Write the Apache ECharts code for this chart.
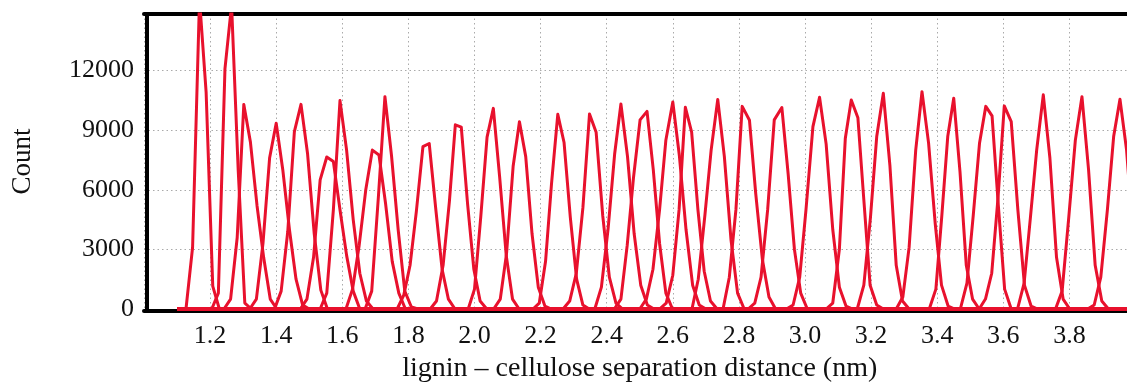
<!DOCTYPE html>
<html>
<head>
<meta charset="utf-8">
<script src="https://cdn.jsdelivr.net/npm/echarts@6/dist/echarts.min.js"></script>
<style>
  html, body { margin: 0; padding: 0; background: #fff; }
  #main { width: 1127px; height: 383px; }
</style>
</head>
<body>
<div id="main"></div>
<script>
// histogram bin centres (nm) for each umbrella window
const binCentres = [
  [1.127, 1.147, 1.168, 1.188, 1.208, 1.228],
  [1.205, 1.225, 1.245, 1.265, 1.285, 1.305, 1.325],
  [1.242, 1.262, 1.282, 1.302, 1.322, 1.342, 1.362, 1.382, 1.402],
  [1.32, 1.34, 1.36, 1.38, 1.40, 1.42, 1.44, 1.46, 1.48, 1.50],
  [1.395, 1.415, 1.435, 1.455, 1.475, 1.495, 1.515, 1.535, 1.555],
  [1.473, 1.493, 1.513, 1.533, 1.553, 1.573, 1.593, 1.613, 1.633, 1.653],
  [1.533, 1.553, 1.573, 1.593, 1.613, 1.633, 1.653, 1.673, 1.693],
  [1.611, 1.631, 1.651, 1.671, 1.691, 1.711, 1.731, 1.751, 1.771, 1.791],
  [1.669, 1.689, 1.709, 1.729, 1.749, 1.769, 1.789, 1.809, 1.829],
  [1.766, 1.786, 1.805, 1.824, 1.844, 1.863, 1.883, 1.902, 1.921, 1.941],
  [1.866, 1.885, 1.905, 1.924, 1.942, 1.96, 1.979, 1.998, 2.017, 2.037],
  [1.981, 2.0, 2.019, 2.038, 2.057, 2.076, 2.096, 2.115, 2.135],
  [2.058, 2.078, 2.097, 2.117, 2.136, 2.155, 2.174, 2.193, 2.213, 2.232],
  [2.177, 2.196, 2.215, 2.233, 2.252, 2.271, 2.29, 2.309, 2.328, 2.347],
  [2.268, 2.288, 2.308, 2.328, 2.348, 2.368, 2.388, 2.408, 2.428, 2.448],
  [2.364, 2.384, 2.404, 2.424, 2.443, 2.463, 2.483, 2.503, 2.523, 2.543],
  [2.423, 2.443, 2.462, 2.481, 2.501, 2.522, 2.541, 2.56, 2.579, 2.599],
  [2.50, 2.52, 2.54, 2.56, 2.579, 2.60, 2.62, 2.64, 2.66, 2.68, 2.70],
  [2.56, 2.58, 2.60, 2.619, 2.638, 2.657, 2.676, 2.695, 2.714, 2.734],
  [2.658, 2.677, 2.697, 2.716, 2.736, 2.756, 2.776, 2.796, 2.816],
  [2.752, 2.771, 2.791, 2.81, 2.832, 2.851, 2.871, 2.891, 2.911],
  [2.828, 2.848, 2.867, 2.887, 2.907, 2.93, 2.949, 2.968, 2.987, 3.007],
  [2.944, 2.964, 2.984, 3.003, 3.024, 3.044, 3.064, 3.084, 3.104, 3.124, 3.144],
  [3.064, 3.084, 3.104, 3.122, 3.14, 3.16, 3.178, 3.197, 3.217, 3.237],
  [3.158, 3.178, 3.198, 3.217, 3.237, 3.257, 3.276, 3.295, 3.315],
  [3.276, 3.296, 3.315, 3.335, 3.354, 3.374, 3.394, 3.413, 3.433, 3.453],
  [3.376, 3.396, 3.414, 3.432, 3.45, 3.469, 3.488, 3.507, 3.527],
  [3.47, 3.49, 3.509, 3.528, 3.547, 3.566, 3.585, 3.604, 3.624],
  [3.527, 3.546, 3.565, 3.584, 3.603, 3.624, 3.644, 3.664, 3.684, 3.704],
  [3.643, 3.663, 3.682, 3.701, 3.721, 3.741, 3.761, 3.781, 3.801],
  [3.758, 3.778, 3.798, 3.818, 3.838, 3.858, 3.878, 3.898, 3.918],
  [3.855, 3.875, 3.895, 3.915, 3.934, 3.953, 3.973, 3.993, 4.013, 4.033]
];

// counts per bin, same order as binCentres
const counts = [
  [0, 3100, 15600, 10900, 1150, 0],
  [0, 800, 12100, 15300, 7000, 300, 0],
  [0, 500, 3600, 10300, 8400, 5200, 2600, 500, 0],
  [0, 500, 3300, 7600, 9350, 7000, 4000, 1500, 200, 0],
  [0, 900, 3900, 8930, 10300, 7800, 3800, 950, 0],
  [0, 500, 2600, 6500, 7650, 7420, 5000, 2700, 900, 0],
  [0, 800, 5000, 10490, 8000, 4500, 1800, 400, 0],
  [0, 1000, 3200, 6000, 8000, 7750, 5300, 2400, 800, 0],
  [0, 900, 5600, 10690, 7700, 4000, 900, 100, 0],
  [0, 700, 2200, 4900, 8170, 8330, 5000, 2000, 500, 0],
  [0, 400, 2200, 5400, 9270, 9150, 5300, 2000, 400, 0],
  [0, 1000, 4650, 8650, 10100, 6660, 2700, 500, 0],
  [0, 500, 2800, 7200, 9430, 7670, 3800, 1100, 150, 0],
  [0, 300, 2400, 6300, 9800, 8380, 4600, 1500, 200, 0],
  [0, 400, 1800, 5100, 9820, 8900, 4700, 1600, 300, 0],
  [0, 1100, 4000, 7800, 10320, 7670, 3800, 1200, 200, 0],
  [0, 500, 3200, 6600, 9520, 9950, 7000, 3300, 800, 0],
  [0, 500, 2000, 5000, 8500, 10420, 7700, 4000, 1200, 200, 0],
  [0, 300, 1700, 5000, 10150, 8900, 5000, 1900, 400, 0],
  [0, 1500, 4700, 8000, 10550, 7670, 3500, 800, 0],
  [0, 1600, 5000, 10200, 9500, 5800, 2500, 600, 0],
  [0, 300, 1600, 5000, 9520, 10140, 6800, 3000, 800, 0],
  [0, 200, 1600, 5000, 9180, 10660, 8300, 4000, 1100, 150, 0],
  [0, 300, 3000, 8600, 10520, 9630, 5500, 1200, 200, 0],
  [0, 1200, 4600, 8680, 10860, 7200, 2200, 400, 0],
  [0, 600, 3100, 8000, 10940, 8340, 4300, 1200, 150, 0],
  [0, 1000, 4700, 8700, 10610, 6900, 2200, 500, 0],
  [0, 1300, 4700, 8340, 10200, 9720, 5200, 1000, 0],
  [0, 500, 1800, 5600, 10220, 9430, 5000, 1200, 150, 0],
  [0, 1300, 4600, 8000, 10780, 7600, 2600, 500, 0],
  [0, 900, 4600, 8500, 10690, 7000, 2200, 400, 0],
  [0, 200, 1600, 5000, 8700, 10560, 8000, 3600, 900, 0]
];

// histograms are zero over the whole sampled range
const rangeStart = 1.10;
const rangeEnd = 4.05;

const xName = 'lignin \u2013 cellulose separation distance (nm)';
const yName = 'Count';

var myChart = echarts.init(document.getElementById('main'));

var font = 'Liberation Serif';
var red = '#e8112d';

var series = binCentres.map(function (xs, i) {
  var data = [[rangeStart, 0]];
  xs.forEach(function (x, j) { data.push([x, counts[i][j]]); });
  data.push([rangeEnd, 0]);
  return {
    type: 'line',
    data: data,
    showSymbol: false,
    symbol: 'none',
    clip: true,
    lineStyle: { color: red, width: 3, join: 'round' },
    z: 3
  };
});

var option = {
  animation: false,
  backgroundColor: '#fff',
  grid: { left: 144, right: -8.5, top: 14, bottom: 74, outerBoundsMode: 'none', containLabel: false },
  xAxis: [{
    type: 'value',
    min: 1.0,
    max: 4.0,
    interval: 0.2,
    offset: 2,
    name: xName,
    nameLocation: 'middle',
    nameGap: 44,
    nameTextStyle: { fontFamily: font, fontSize: 28, color: '#111' },
    axisLine: { show: true, onZero: false, lineStyle: { color: '#000', width: 4 } },
    axisTick: { show: false },
    axisLabel: {
      fontFamily: font, fontSize: 26, color: '#111', margin: 12,
      showMinLabel: false, showMaxLabel: false,
      formatter: function (v) { return v.toFixed(1); }
    },
    splitLine: { show: true, lineStyle: { color: '#aaa', type: [1.5, 3], width: 1 } }
  }, {
    // top edge of the frame
    type: 'value',
    position: 'top',
    min: 1.0,
    max: 4.0,
    axisLine: { show: true, onZero: false, lineStyle: { color: '#000', width: 4 } },
    axisTick: { show: false },
    axisLabel: { show: false },
    splitLine: { show: false }
  }],
  yAxis: {
    type: 'value',
    min: 0,
    max: 14850,
    interval: 3000,
    offset: -3,
    name: yName,
    nameLocation: 'middle',
    nameRotate: 90,
    nameGap: 111,
    nameTextStyle: { fontFamily: font, fontSize: 27, color: '#111' },
    axisLine: { show: true, onZero: false, lineStyle: { color: '#000', width: 4 } },
    axisTick: { show: false },
    axisLabel: {
      fontFamily: font, fontSize: 26, color: '#111', margin: 13,
      showMaxLabel: false,
      formatter: function (v) { return String(v); }
    },
    splitLine: { show: true, lineStyle: { color: '#aaa', type: [1.5, 3], width: 1 } }
  },
  series: series
};

myChart.setOption(option);
</script>
</body>
</html>
